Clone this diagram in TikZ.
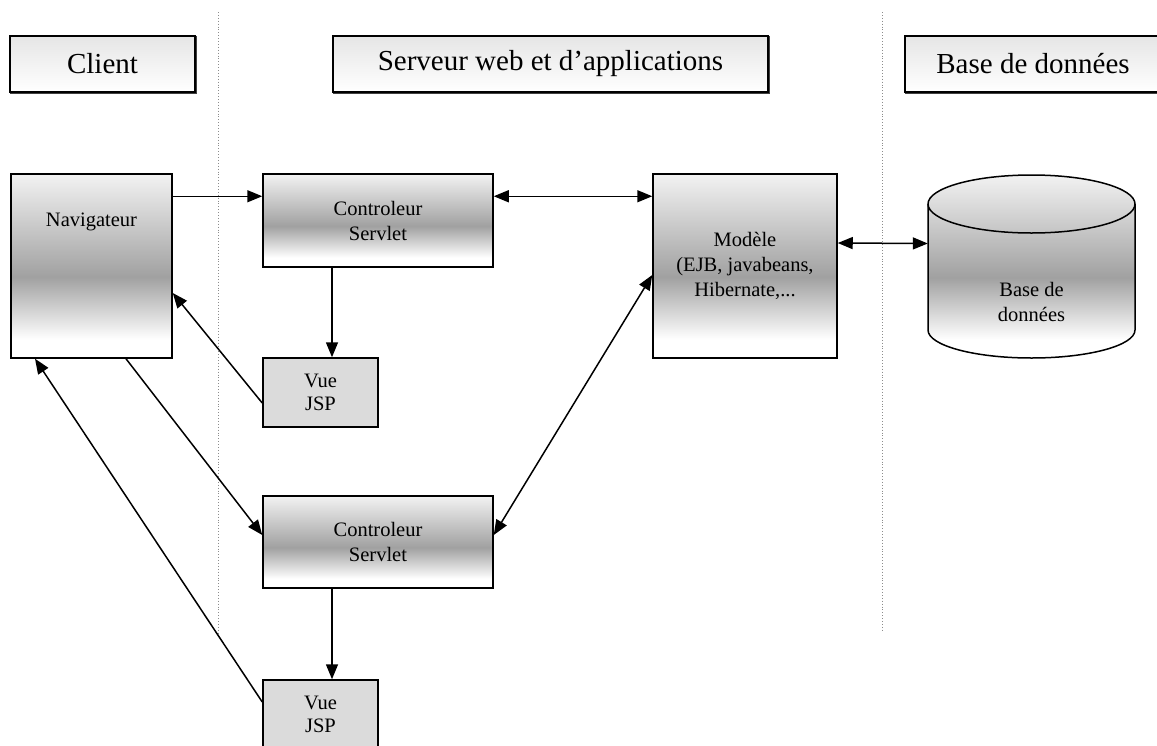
\documentclass[tikz,border=0pt]{standalone}
\usepackage{fontspec}
\setmainfont{Liberation Serif}
\usetikzlibrary{positioning,arrows.meta}

\definecolor{shadegrey}{gray}{0.63}
\definecolor{topgrey}{gray}{0.95}
\definecolor{vuegrey}{gray}{0.86}
\pgfdeclareverticalshading{boxshade}{100bp}{color(0bp)=(white); color(30bp)=(white); color(47bp)=(shadegrey); color(75bp)=(topgrey); color(100bp)=(topgrey)}

\begin{document}
\begin{tikzpicture}[
  x=1pt, y=-1pt,
  hbox/.style={rectangle, draw, line width=1.4pt, top color=black!10, bottom color=white,
    minimum height=56pt, font=\fontsize{29}{34}\selectfont,
    preaction={draw, line width=2.2pt, black!75, transform canvas={xshift=0.9pt, yshift=-0.9pt}}},
  box/.style={rectangle, draw, line width=1.5pt, shade, shading=boxshade, align=center,
    inner sep=2pt, font=\fontsize{20.5}{25}\selectfont},
  vue/.style={rectangle, draw, line width=1.5pt, fill=vuegrey, align=center,
    minimum width=115pt, minimum height=69pt, font=\fontsize{20.5}{23}\selectfont},
  txt/.style={align=center, inner sep=0pt, font=\fontsize{20.5}{25}\selectfont},
  arrow/.style={-{Triangle[length=15pt, width=12pt]}, line width=1.5pt},
  darrow/.style={{Triangle[length=15pt, width=12pt]}-{Triangle[length=15pt, width=12pt]}, line width=1.5pt},
  divider/.style={dotted, line width=0.9pt, black!45},
]
\useasboundingbox (0,0) rectangle (1157,745);
\clip (0,0) rectangle (1157,745);

% === TIERS ===
\draw[divider] (218,12) -- (218,638);
\draw[divider] (882,12) -- (882,630);

\node[hbox, minimum width=185pt] (hclient) at (102.5,64) {Client};
\node[hbox, minimum width=435pt] (hserver) at (550.5,64) {Serveur web et d’applications};
\node[hbox, minimum width=256pt] (hdb)     at (1033,64)  {Base de données};

% === CLIENT ===
\node[box, minimum width=161pt, minimum height=184pt] (nav) at (91.5,266) {};
\node[txt] (navtxt) at ([yshift=-49pt]nav.north) {Navigateur};

% === SERVEUR ===
\node[box, minimum width=230pt, minimum height=93pt]  (ctl1) at (378,220.5) {Controleur\\Servlet};
\node[vue] (vue1) at (320.5,392.5) {Vue\\JSP};
\node[box, minimum width=230pt, minimum height=92pt]  (ctl2) at (378,542) {Controleur\\Servlet};
\node[vue] (vue2) at (320.5,714.5) {Vue\\JSP};
\node[box, minimum width=184pt, minimum height=184pt] (mod)  at (745,266)
  {Modèle\\(EJB, javabeans,\\Hibernate,...};

% === BASE DE DONNEES ===
\node[minimum width=207pt, minimum height=183pt, inner sep=0pt] (db) at (1031.5,266.5) {};
\shade[shading=boxshade, draw, line width=1.5pt]
  (928,204) -- (928,330) arc[start angle=180, end angle=360, x radius=103.5pt, y radius=28pt]
  -- (1135,204) arc[start angle=0, end angle=180, x radius=103.5pt, y radius=29pt] -- cycle;
\draw[line width=1.5pt] (928,204) arc[start angle=180, end angle=360, x radius=103.5pt, y radius=29pt];
\node[txt] (dbtxt) at (1031.5,302) {Base de\\données};

% === FLUX ===
\draw[arrow]  ([yshift=-23pt]nav.north east) -- ([yshift=-23pt]ctl1.north west);
\draw[darrow] ([yshift=-23pt]ctl1.north east) -- ([yshift=-23pt]mod.north west);
\draw[arrow]  ([xshift=-46pt]ctl1.south) -- ([xshift=11.5pt]vue1.north);
\draw[arrow]  ([yshift=-10.5pt]vue1.west) -- ([yshift=-27pt]nav.east);
\draw[arrow]  ([xshift=34.5pt]nav.south) -- ([yshift=7pt]ctl2.west);
\draw[darrow] ([yshift=7pt]ctl2.east) -- ([yshift=-9pt]mod.west);
\draw[arrow]  ([xshift=-46pt]ctl2.south) -- ([xshift=11.5pt]vue2.north);
\draw[arrow]  ([yshift=12.5pt]vue2.west) -- ([xshift=-56.5pt]nav.south);
\draw[darrow] ([yshift=23pt]mod.east) -- ([yshift=23pt]db.west);
\end{tikzpicture}
\end{document}
